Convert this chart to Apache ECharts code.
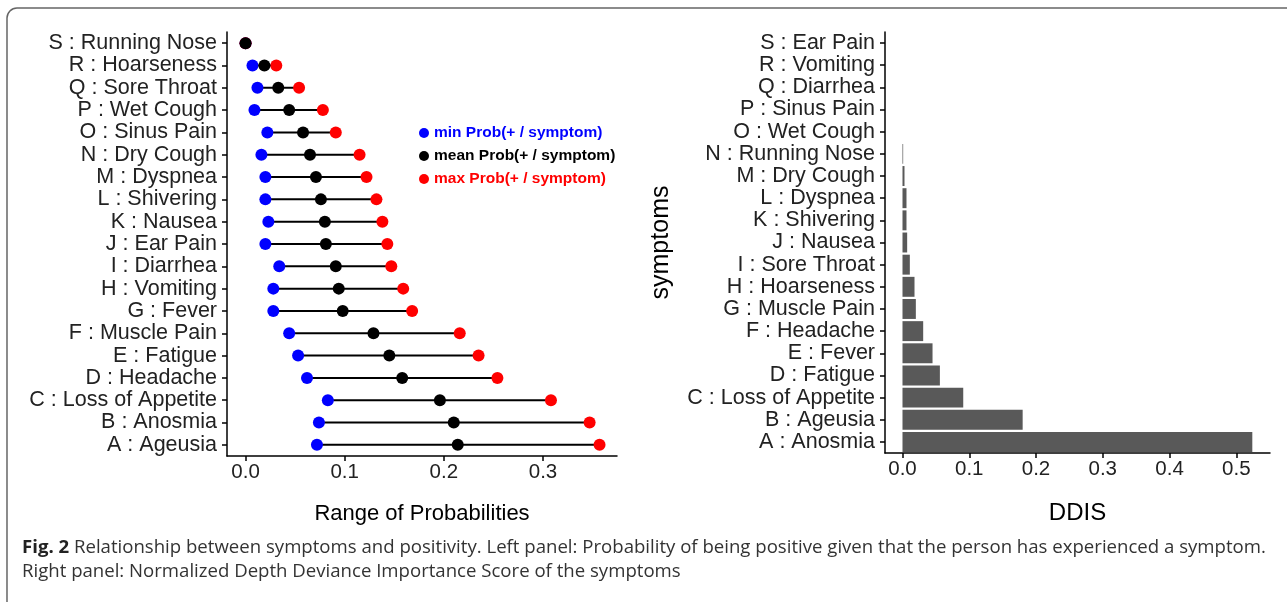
<!DOCTYPE html>
<html><head><meta charset="utf-8">
<script src="https://cdn.jsdelivr.net/npm/echarts@6/dist/echarts.min.js"></script>
<style>html,body{margin:0;padding:0;background:#fff}#c{width:1287px;height:602px}</style>
</head><body><div id="c"></div>
<script>
// Left panel (bottom -> top)
const leftCategories = ['A : Ageusia','B : Anosmia','C : Loss of Appetite','D : Headache','E : Fatigue','F : Muscle Pain','G : Fever','H : Vomiting','I : Diarrhea','J : Ear Pain','K : Nausea','L : Shivering','M : Dyspnea','N : Dry Cough','O : Sinus Pain','P : Wet Cough','Q : Sore Throat','R : Hoarseness','S : Running Nose'];
const minProb  = [0.072,0.074,0.083,0.062,0.053,0.044,0.028,0.028,0.034,0.020,0.023,0.020,0.020,0.016,0.022,0.009,0.012,0.007,0.000];
const meanProb = [0.214,0.210,0.196,0.158,0.145,0.129,0.098,0.094,0.091,0.081,0.080,0.076,0.071,0.065,0.058,0.044,0.033,0.019,0.000];
const maxProb  = [0.357,0.347,0.308,0.254,0.235,0.216,0.168,0.159,0.147,0.143,0.138,0.132,0.122,0.115,0.091,0.078,0.054,0.031,0.000];
// Right panel (bottom -> top)
const rightCategories = ['A : Anosmia','B : Ageusia','C : Loss of Appetite','D : Fatigue','E : Fever','F : Headache','G : Muscle Pain','H : Hoarseness','I : Sore Throat','J : Nausea','K : Shivering','L : Dyspnea','M : Dry Cough','N : Running Nose','O : Wet Cough','P : Sinus Pain','Q : Diarrhea','R : Vomiting','S : Ear Pain'];
const ddis = [0.524,0.180,0.091,0.056,0.045,0.031,0.020,0.018,0.011,0.007,0.006,0.006,0.003,0.001,0,0,0,0,0];
const leftTicks = [0, 0.1, 0.2, 0.3];
const rightTicks = [0, 0.1, 0.2, 0.3, 0.4, 0.5];
const legendNames = ['min Prob(+ / symptom)','mean Prob(+ / symptom)','max Prob(+ / symptom)'];
const legendColors = ['#0000ff','#000000','#ff0000'];

const FONT = 'Liberation Sans';
const chart = echarts.init(document.getElementById('c'));

function xAxisCfg(grid, min, max, ticks, name, nameGap, nameSize){
  return {gridIndex:grid, type:'value', min:min, max:max,
    axisLine:{show:true, onZero:false, lineStyle:{color:'#000', width:1.5}},
    axisTick:{show:true, length:5, customValues:ticks, lineStyle:{color:'#000', width:1.5}},
    axisLabel:{customValues:ticks, formatter:v=>v.toFixed(1), fontSize:20.5, color:'#222', margin:6, fontFamily:FONT},
    splitLine:{show:false},
    name:name, nameLocation:'middle', nameGap:nameGap,
    nameTextStyle:{fontSize:nameSize, color:'#000', fontFamily:FONT}};
}
function yAxisCfg(grid, cats, extra){
  return Object.assign({gridIndex:grid, type:'category', data:cats,
    axisLine:{show:true, onZero:false, lineStyle:{color:'#000', width:1.5}},
    axisTick:{show:true, alignWithLabel:true, length:5, lineStyle:{color:'#000', width:1.5}},
    axisLabel:{fontSize:21.5, color:'#222', margin:10, fontFamily:FONT, interval:0},
    splitLine:{show:false}}, extra||{});
}

const option = {
  animation:false,
  backgroundColor:'#fff',
  grid:[{left:227, top:32, width:390, height:424},{left:885, top:32, width:385, height:421}],
  xAxis:[
    xAxisCfg(0, -0.0187, 0.3746, leftTicks, 'Range of Probabilities', 47, 22),
    xAxisCfg(1, -0.0262, 0.5505, rightTicks, 'DDIS', 48, 24)
  ],
  yAxis:[
    yAxisCfg(0, leftCategories),
    yAxisCfg(1, rightCategories, {name:'symptoms', nameLocation:'middle', nameGap:211, nameTextStyle:{fontSize:25, color:'#000', fontFamily:FONT}})
  ],
  legend:{orient:'vertical', left:414, top:120, icon:'circle', itemWidth:10, itemHeight:10, itemGap:7,
    selectedMode:false,
    textStyle:{fontSize:15.5, fontWeight:'bold', fontFamily:FONT},
    data:legendNames.map((n,i)=>({name:n, textStyle:{color:legendColors[i]}}))},
  series:[
    {type:'custom', xAxisIndex:0, yAxisIndex:0, silent:true,
     encode:{x:[0,1], y:2},
     data:leftCategories.map((c,i)=>[minProb[i], maxProb[i], i]),
     renderItem:(params, api)=>{
       const y = api.value(2);
       const p1 = api.coord([api.value(0), y]);
       const p2 = api.coord([api.value(1), y]);
       return {type:'line', shape:{x1:p1[0], y1:p1[1], x2:p2[0], y2:p2[1]}, style:{stroke:'#000', lineWidth:2}};
     }},
    {type:'scatter', name:legendNames[0], xAxisIndex:0, yAxisIndex:0, symbolSize:12,
     itemStyle:{color:legendColors[0], opacity:1}, data:minProb.map((v,i)=>[v, leftCategories[i]])},
    {type:'scatter', name:legendNames[2], xAxisIndex:0, yAxisIndex:0, symbolSize:12,
     itemStyle:{color:legendColors[2], opacity:1}, data:maxProb.map((v,i)=>[v, leftCategories[i]])},
    {type:'scatter', name:legendNames[1], xAxisIndex:0, yAxisIndex:0, symbolSize:12,
     itemStyle:{color:legendColors[1], opacity:1}, data:meanProb.map((v,i)=>[v, leftCategories[i]])},
    {type:'bar', xAxisIndex:1, yAxisIndex:1, data:ddis, barCategoryGap:'10%',
     itemStyle:{color:'#595959'}}
  ],
  graphic:[
    {type:'rect', shape:{x:7, y:8, width:1300, height:640, r:10}, style:{fill:'none', stroke:'#666', lineWidth:1.5}, silent:true},
    {type:'text', left:22, top:536, style:{
      text:'{b|Fig. 2} Relationship between symptoms and positivity. Left panel: Probability of being positive given that the person has experienced a symptom.\nRight panel: Normalized Depth Deviance Importance Score of the symptoms',
      fontSize:18.6, fontFamily:'Open Sans', fill:'#333', lineHeight:24,
      rich:{b:{fontWeight:'bold', fontSize:18.6, fontFamily:'Open Sans', fill:'#222', lineHeight:24}}
    }}
  ]
};
chart.setOption(option);
</script></body></html>
